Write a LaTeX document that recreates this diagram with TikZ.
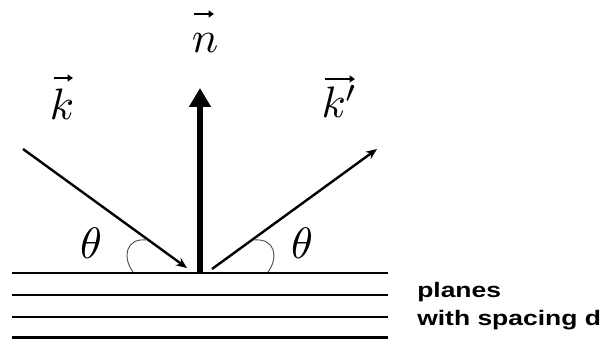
\documentclass[tikz,border=0pt]{standalone}
\usepackage{fontspec}
\newfontfamily\lab{Liberation Sans}
\usetikzlibrary{arrows.meta}
\begin{document}
\begin{tikzpicture}[x=1pt,y=-1pt,
 plane/.style={line width=2.6pt},
 ray/.style={line width=2.4pt,-{Stealth[length=11pt,width=9pt]}},
 normalarrow/.style={line width=5.5pt,-{Triangle[length=19pt,width=21pt]}},
 vecarrow/.style={line width=1.9pt,-{Triangle[length=5.5pt,width=7pt]}},
 anglearc/.style={line width=0.9pt,black!70},
 mathlab/.style={inner sep=0, anchor=base, scale=4.4, transform shape},
 txt/.style={font=\lab\bfseries\fontsize{21}{24}\selectfont, anchor=base west, inner sep=0, xscale=1.26, transform shape}]
\useasboundingbox (0,0) rectangle (604,339);
% planes
\foreach \yy/\nm in {273/p1,295/p2,317/p3,337.5/p4}{
  \coordinate (\nm l) at (12,\yy);
  \coordinate (\nm r) at (388,\yy);
  \draw[plane] (\nm l) -- (\nm r);
}
% rays
\coordinate (A) at (23,149);
\coordinate (B) at (187,268);
\coordinate (C) at (212,269);
\coordinate (D) at (377,149);
\coordinate (O) at (200,273);
\coordinate (N) at (200,88);
\draw[ray] (A) -- (B);
\draw[ray] (C) -- (D);
\draw[normalarrow] (O) -- (N);
% angle arcs
\draw[anglearc] (133,272) .. controls (122,257) and (126,238) .. (146,240);
\draw[anglearc] (268,272) .. controls (279,257) and (275,238) .. (254,240);
% labels
\node[mathlab] (ln) at (205,53) {$n$};
\node[mathlab] (lk) at (62,120) {$k$};
\node[mathlab] (lkp) at (340,118) {$k'$};
\coordinate (ns) at (194,14); \coordinate (ne) at (214,14);
\coordinate (ks) at (54,78); \coordinate (ke) at (73,78);
\coordinate (kps) at (325,79); \coordinate (kpe) at (355,79);
\draw[vecarrow] (ns) -- (ne);
\draw[vecarrow] (ks) -- (ke);
\draw[vecarrow] (kps) -- (kpe);
\node[mathlab] (th1) at (91,258) {$\theta$};
\node[mathlab] (th2) at (302,258) {$\theta$};
\node[txt] (t1) at (417,297) {planes};
\node[txt] (t2) at (417,325) {with spacing d};
\end{tikzpicture}
\end{document}
